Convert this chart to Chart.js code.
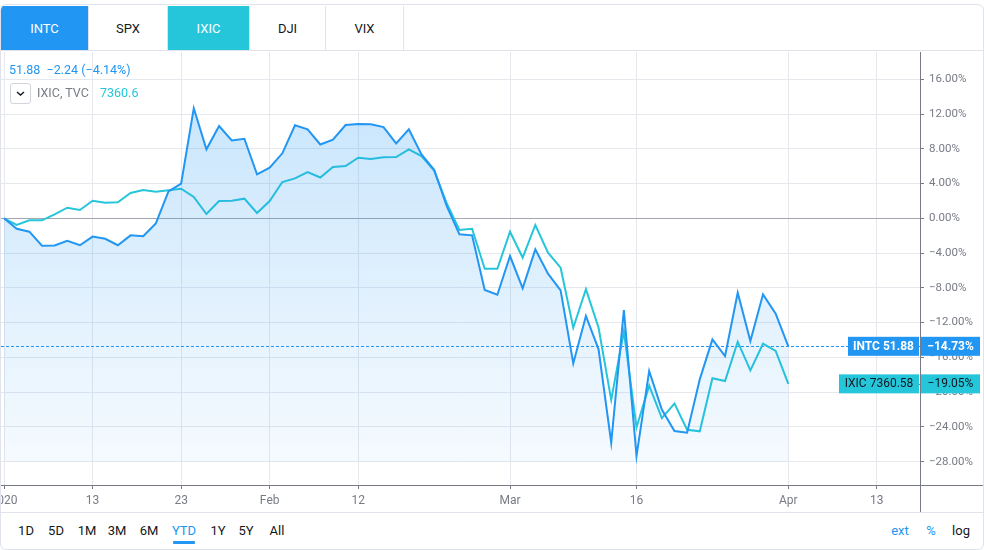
<!DOCTYPE html>
<html>
<head>
<meta charset="utf-8">
<script src="https://cdn.jsdelivr.net/npm/chart.js@4.4.1/dist/chart.umd.min.js"></script>
<style>
  body { margin: 0; background: #fff; font-family: Roboto, "Noto Sans", sans-serif; }
  #frame { position: absolute; left: 0; top: 4px; width: 982px; height: 544px; border: 1px solid #e0e3eb; border-radius: 6px; overflow: hidden; }
  .tab { position: absolute; top: 1px; height: 45px; line-height: 45px; text-align: center; font-size: 13px; color: #131722; border-right: 1px solid #e0e3eb; box-sizing: border-box; }
  #tabline { position: absolute; left: 0; top: 45px; width: 984px; height: 1px; background: #e0e3eb; }
  #cv { position: absolute; left: 0; top: 47px; }
  .leg { position: absolute; font-size: 12.5px; white-space: nowrap; }
  #dd { position: absolute; left: 9px; top: 78px; width: 19px; height: 19px; border: 1px solid #d1d4dc; border-radius: 3px; background: #fff; }
  #toolline { position: absolute; left: 0; top: 507px; width: 984px; height: 1px; background: #e0e3eb; }
  .tb { position: absolute; top: 518px; font-size: 13px; color: #131722; transform: translateX(-50%); }
  #ul { position: absolute; left: 172px; top: 536px; width: 22px; height: 3px; background: #2196f3; border-radius: 1px; }
</style>
</head>
<body>
<div id="frame">
  <div class="tab" style="left:0;width:88px;background:#2196f3;color:#fff;">INTC</div>
  <div class="tab" style="left:88px;width:79px;">SPX</div>
  <div class="tab" style="left:167px;width:82px;background:#26c6da;color:#fff;">IXIC</div>
  <div class="tab" style="left:249px;width:76px;">DJI</div>
  <div class="tab" style="left:325px;width:78px;">VIX</div>
  <div id="tabline"></div>
  <canvas id="cv" width="984" height="460"></canvas>
  <div class="leg" style="left:8px;top:57px;color:#2196f3;">51.88&nbsp; −2.24 (−4.14%)</div>
  <div id="dd"><svg width="19" height="19" viewBox="0 0 19 19"><path d="M6 8 L9.5 11 L13 8" fill="none" stroke="#131722" stroke-width="1.4"/></svg></div>
  <div class="leg" style="left:36px;top:80px;color:#787b86;">IXIC, TVC</div>
  <div class="leg" style="left:99px;top:80px;color:#26c6da;">7360.6</div>
  <div id="toolline"></div>
  <div class="tb" style="left:25px;">1D</div>
  <div class="tb" style="left:55px;">5D</div>
  <div class="tb" style="left:86px;">1M</div>
  <div class="tb" style="left:116px;">3M</div>
  <div class="tb" style="left:148px;">6M</div>
  <div class="tb" style="left:183px;color:#2196f3;">YTD</div>
  <div class="tb" style="left:217px;">1Y</div>
  <div class="tb" style="left:245px;">5Y</div>
  <div class="tb" style="left:276px;">All</div>
  <div id="ul"></div>
  <div class="tb" style="left:899px;color:#2196f3;">ext</div>
  <div class="tb" style="left:930px;color:#2196f3;">%</div>
  <div class="tb" style="left:960px;">log</div>
</div>
<script>
// valores en % desde el inicio del año (un punto por sesión)
const intc = [0, -1.20, -1.54, -3.15, -3.12, -2.58, -3.10, -2.10, -2.35, -3.10,
  -1.96, -2.07, -0.58, 3.10, 4.00, 12.66, 7.94, 10.62, 8.97, 9.16,
  5.06, 5.82, 7.48, 10.70, 10.24, 8.50, 9.04, 10.74, 10.85, 10.82,
  10.50, 8.63, 10.24, 7.36, 5.60, 1.40, -1.84, -1.96, -8.25, -8.79,
  -4.34, -8.06, -3.57, -6.37, -8.29, -16.70, -11.24, -15.08, -25.82, -10.55,
  -27.35, -17.57, -22.00, -24.48, -24.67, -18.53, -13.93, -15.85, -8.56, -14.12,
  -8.75, -10.98, -14.73];
const ixic = [0, -0.77, -0.23, -0.23, 0.46, 1.22, 0.96, 2.03, 1.80, 1.84,
  2.91, 3.26, 3.06, 3.22, 3.41, 2.45, 0.49, 1.99, 2.03, 2.26,
  0.61, 1.99, 4.18, 4.60, 5.33, 4.70, 5.90, 6.02, 6.97, 6.82,
  7.02, 7.05, 7.94, 7.17, 5.50, 1.70, -1.35, -1.20, -5.80, -5.80,
  -1.54, -4.53, -0.77, -3.96, -5.68, -12.59, -8.17, -12.59, -20.90, -13.00,
  -24.05, -19.25, -23.00, -21.33, -24.33, -24.51, -18.41, -18.72, -14.20, -17.50,
  -14.43, -15.27, -19.05];

// marcas del eje de tiempo (índice de sesión -> texto)
const xTickIdx = [0, 7, 14, 21, 28, 40, 50, 62, 69];
const xTickLabels = ["2020", "13", "23", "Feb", "12", "Mar", "16", "Apr", "13"];
const yTicks = [-28, -24, -20, -16, -12, -8, -4, 0, 4, 8, 12, 16];

const lastIntc = { txt: "INTC 51.88", pct: "−14.73%", val: -14.73 };
const lastIxic = { txt: "IXIC 7360.58", pct: "−19.05%", val: -19.05 };

const BLUE = "#2196f3";
const TEAL = "#26c6da";
const fmt = v => (v < 0 ? "−" : "") + Math.abs(v).toFixed(2) + "%";

const extras = {
  id: "extras",
  beforeDatasetsDraw(chart) {
    const c = chart.ctx, a = chart.chartArea, y = chart.scales.y;
    const py = Math.round(y.getPixelForValue(lastIntc.val)) + 0.5;
    c.save();
    c.strokeStyle = BLUE;
    c.lineWidth = 1;
    c.setLineDash([3, 2]);
    c.beginPath();
    c.moveTo(a.left, py);
    c.lineTo(a.right, py);
    c.stroke();
    c.restore();
  },
  afterDraw(chart) {
    const c = chart.ctx, a = chart.chartArea, y = chart.scales.y;
    c.save();
    c.strokeStyle = "#787b86";
    c.lineWidth = 1;
    c.beginPath();
    c.moveTo(a.right + 0.5, a.bottom);
    c.lineTo(a.right + 0.5, chart.height);
    c.moveTo(a.right, a.bottom + 0.5);
    c.lineTo(chart.width, a.bottom + 0.5);
    c.stroke();

    function tag(info, bg, fg, w, bold) {
      const py = y.getPixelForValue(info.val);
      const h = 19;
      c.fillStyle = bg;
      c.fillRect(a.right - 1 - w, py - h / 2, w, h);
      c.fillRect(a.right + 1, py - h / 2, 59, h);
      c.strokeStyle = "#787b86";
      c.beginPath();
      c.moveTo(a.right - 1, Math.round(py) + 0.5);
      c.lineTo(a.right + 1, Math.round(py) + 0.5);
      c.stroke();
      c.fillStyle = fg;
      c.font = (bold ? "bold " : "") + "12px Roboto, sans-serif";
      c.textBaseline = "middle";
      c.textAlign = "center";
      c.fillText(info.txt, a.right - 1 - w / 2, py + 0.5);
      c.fillText(info.pct, a.right + 1 + 29.5, py + 0.5);
    }
    tag(lastIntc, BLUE, "#fff", 71, true);
    tag(lastIxic, TEAL, "#131722", 80, false);
    c.restore();
  }
};

new Chart(document.getElementById("cv"), {
  type: "line",
  data: {
    datasets: [
      {
        label: "INTC",
        data: intc.map((v, i) => ({ x: i, y: v })),
        borderColor: BLUE,
        borderWidth: 2,
        pointRadius: 0,
        fill: { value: -28 },
        backgroundColor: ctx => {
          const area = ctx.chart.chartArea;
          if (!area) return "rgba(33,150,243,0.15)";
          const g = ctx.chart.ctx.createLinearGradient(0, area.top, 0, area.bottom);
          g.addColorStop(0, "rgba(33,150,243,0.27)");
          g.addColorStop(1, "rgba(33,150,243,0.03)");
          return g;
        }
      },
      {
        label: "IXIC",
        data: ixic.map((v, i) => ({ x: i, y: v })),
        borderColor: TEAL,
        borderWidth: 2,
        pointRadius: 0,
        fill: false
      }
    ]
  },
  options: {
    responsive: false,
    animation: false,
    layout: { padding: 0 },
    plugins: { legend: { display: false }, tooltip: { enabled: false } },
    scales: {
      x: {
        type: "linear",
        min: -0.24,
        max: 72.41,
        afterBuildTicks: s => { s.ticks = xTickIdx.map(v => ({ value: v })); },
        afterFit: s => { s.height = 27; s.paddingLeft = 0; s.paddingRight = 0; },
        ticks: {
          autoSkip: false,
          maxRotation: 0,
          padding: 5,
          color: "#787b86",
          font: { family: "Roboto", size: 12 },
          callback: v => xTickLabels[xTickIdx.indexOf(v)]
        },
        grid: { color: "#e6e8ee", tickColor: "#787b86", tickLength: 4 },
        border: { color: "#787b86" }
      },
      y: {
        position: "right",
        min: -30.69,
        max: 19.14,
        afterBuildTicks: s => { s.ticks = yTicks.map(v => ({ value: v })); },
        afterFit: s => { s.width = 65; s.paddingTop = 0; s.paddingBottom = 0; },
        ticks: {
          padding: 5,
          color: "#787b86",
          font: { family: "Roboto", size: 11.5 },
          callback: v => fmt(v)
        },
        grid: {
          color: c => (c.tick && c.tick.value === 0 ? "#a3a6b0" : "#e6e8ee"),
          tickColor: "#787b86",
          tickLength: 4
        },
        border: { color: "#787b86" }
      }
    }
  },
  plugins: [extras]
});
</script>
</body>
</html>
